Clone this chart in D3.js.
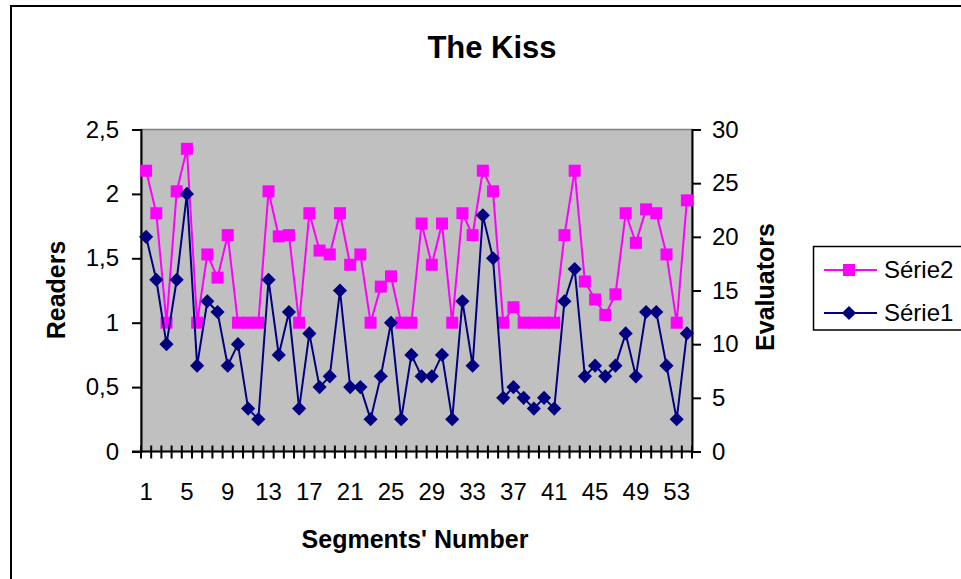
<!DOCTYPE html>
<html lang="en">
<head>
  <meta charset="UTF-8" />
  <title>The Kiss</title>
  <script src="https://d3js.org/d3.v7.min.js"></script>
  <style>
    body { margin: 0; background: #fff; }
    svg text { font-family: "Liberation Sans", Arial, sans-serif; fill: #000; }
  </style>
</head>
<body>
  <svg width="961" height="579"></svg>

  <script>
    // Segments 1..54
    const segments = d3.range(1, 55);
    const tickLabels = d3.range(1, 55, 4);

    // Série2 - Readers (left axis)
    const readers = [2.18, 1.85, 1.0, 2.02, 2.35, 1.0, 1.53, 1.35, 1.68, 1.0,
                     1.0, 1.0, 2.02, 1.67, 1.68, 1.0, 1.85, 1.56, 1.53, 1.85,
                     1.45, 1.53, 1.0, 1.28, 1.36, 1.0, 1.0, 1.77, 1.45, 1.77,
                     1.0, 1.85, 1.68, 2.18, 2.02, 1.0, 1.12, 1.0, 1.0, 1.0,
                     1.0, 1.68, 2.18, 1.32, 1.18, 1.06, 1.22, 1.85, 1.62, 1.88,
                     1.85, 1.53, 1.0, 1.95];

    // Série1 - Evaluators (right axis)
    const evaluators = [20, 16, 10, 16, 24, 8, 14, 13, 8, 10,
                        4, 3, 16, 9, 13, 4, 11, 6, 7, 15,
                        6, 6, 3, 7, 12, 3, 9, 7, 7, 9,
                        3, 14, 8, 22, 18, 5, 6, 5, 4, 5,
                        4, 14, 17, 7, 8, 7, 8, 11, 7, 13,
                        13, 8, 3, 11];

    const leftTicks = [0, 0.5, 1, 1.5, 2, 2.5];
    const rightTicks = [0, 5, 10, 15, 20, 25, 30];

    const pink = "#FF00FF", navy = "#000080";
    const fmt = d => String(d).replace(".", ",");

    const svg = d3.select("svg");

    // chart border (runs off the picture right and bottom)
    svg.append("rect")
      .attr("x", 11).attr("y", 6)
      .attr("width", 1000).attr("height", 620)
      .attr("fill", "#fff")
      .attr("stroke", "#000").attr("stroke-width", 2);

    const plot = { left: 141, right: 692, top: 129.5, bottom: 451.5 };

    const x = d3.scaleBand()
      .domain(segments)
      .range([plot.left, plot.right])
      .padding(0);

    const yL = d3.scaleLinear().domain([0, 2.5]).range([plot.bottom, plot.top]);
    const yR = d3.scaleLinear().domain([0, 30]).range([plot.bottom, plot.top]);

    // plot area
    svg.append("rect")
      .attr("x", plot.left).attr("y", plot.top)
      .attr("width", plot.right - plot.left)
      .attr("height", plot.bottom - plot.top)
      .attr("fill", "#C0C0C0")
      .attr("stroke", "#808080").attr("stroke-width", 1.5);

    // left axis
    const axL = svg.append("g")
      .attr("transform", `translate(${plot.left},0)`)
      .call(d3.axisLeft(yL).tickValues(leftTicks).tickFormat(fmt).tickSize(9).tickPadding(13));
    axL.select(".domain").attr("stroke", "#000").attr("stroke-width", 2);
    axL.selectAll(".tick line").attr("stroke", "#000").attr("stroke-width", 2);
    axL.selectAll("text").attr("font-size", 24);

    // right axis
    const axR = svg.append("g")
      .attr("transform", `translate(${plot.right},0)`)
      .call(d3.axisRight(yR).tickValues(rightTicks).tickSize(9).tickPadding(11));
    axR.select(".domain").attr("stroke", "#000").attr("stroke-width", 2);
    axR.selectAll(".tick line").attr("stroke", "#000").attr("stroke-width", 2);
    axR.selectAll("text").attr("font-size", 24);

    // bottom axis: labels every 4th segment
    const axB = svg.append("g")
      .attr("transform", `translate(0,${plot.bottom})`)
      .call(d3.axisBottom(x).tickValues(tickLabels).tickSize(0).tickPadding(31));
    axB.select(".domain").remove();
    axB.selectAll("text").attr("font-size", 24);

    // category boundary ticks crossing the axis
    const bounds = segments.map(d => x(d)).concat([x.range()[1]]);
    svg.append("g").selectAll("line")
      .data(bounds)
      .join("line")
      .attr("x1", d => d).attr("x2", d => d)
      .attr("y1", plot.bottom - 6).attr("y2", plot.bottom + 7)
      .attr("stroke", "#000").attr("stroke-width", 2);
    svg.append("line")
      .attr("x1", plot.left - 9).attr("x2", plot.right)
      .attr("y1", plot.bottom).attr("y2", plot.bottom)
      .attr("stroke", "#000").attr("stroke-width", 2);

    const cx = d => x(d) + x.bandwidth() / 2;
    const diamond = d3.symbol().type(d3.symbolSquare).size(100);

    // Série2 line + squares
    const lineL = d3.line().x((d, i) => cx(segments[i])).y(d => yL(d));
    svg.append("path")
      .datum(readers)
      .attr("d", lineL)
      .attr("fill", "none").attr("stroke", pink).attr("stroke-width", 2);
    svg.append("g").selectAll("rect")
      .data(readers)
      .join("rect")
      .attr("x", (d, i) => cx(segments[i]) - 6)
      .attr("y", d => yL(d) - 6)
      .attr("width", 12).attr("height", 12)
      .attr("fill", pink);

    // Série1 line + diamonds
    const lineR = d3.line().x((d, i) => cx(segments[i])).y(d => yR(d));
    svg.append("path")
      .datum(evaluators)
      .attr("d", lineR)
      .attr("fill", "none").attr("stroke", navy).attr("stroke-width", 2);
    svg.append("g").selectAll("path")
      .data(evaluators)
      .join("path")
      .attr("d", diamond)
      .attr("transform", (d, i) => `translate(${cx(segments[i])},${yR(d)}) rotate(45)`)
      .attr("fill", navy);

    // titles
    svg.append("text")
      .attr("x", 492).attr("y", 58)
      .attr("text-anchor", "middle")
      .attr("font-size", 31).attr("font-weight", "bold")
      .text("The Kiss");

    svg.append("text")
      .attr("x", 415).attr("y", 548)
      .attr("text-anchor", "middle")
      .attr("font-size", 25).attr("font-weight", "bold")
      .text("Segments' Number");

    svg.append("text")
      .attr("transform", "translate(65,290) rotate(-90)")
      .attr("text-anchor", "middle")
      .attr("font-size", 25).attr("font-weight", "bold")
      .text("Readers");

    svg.append("text")
      .attr("transform", "translate(774,287) rotate(-90)")
      .attr("text-anchor", "middle")
      .attr("font-size", 25).attr("font-weight", "bold")
      .text("Evaluators");

    // legend
    const legend = svg.append("g");
    legend.append("rect")
      .attr("x", 813.5).attr("y", 246.5)
      .attr("width", 200).attr("height", 83.5)
      .attr("fill", "#fff")
      .attr("stroke", "#000").attr("stroke-width", 1.5);

    const items = [
      { name: "Série2", color: pink, y: 270, mark: "square" },
      { name: "Série1", color: navy, y: 313, mark: "diamond" }
    ];
    items.forEach(it => {
      legend.append("line")
        .attr("x1", 824).attr("x2", 877)
        .attr("y1", it.y).attr("y2", it.y)
        .attr("stroke", it.color).attr("stroke-width", 2);
      if (it.mark === "square") {
        legend.append("rect")
          .attr("x", 849 - 6).attr("y", it.y - 6)
          .attr("width", 12).attr("height", 12)
          .attr("fill", it.color);
      } else {
        legend.append("path")
          .attr("d", diamond)
          .attr("transform", `translate(849,${it.y}) rotate(45)`)
          .attr("fill", it.color);
      }
      legend.append("text")
        .attr("x", 884).attr("y", it.y)
        .attr("dy", "0.35em")
        .attr("font-size", 24)
        .text(it.name);
    });
  </script>
</body>
</html>
